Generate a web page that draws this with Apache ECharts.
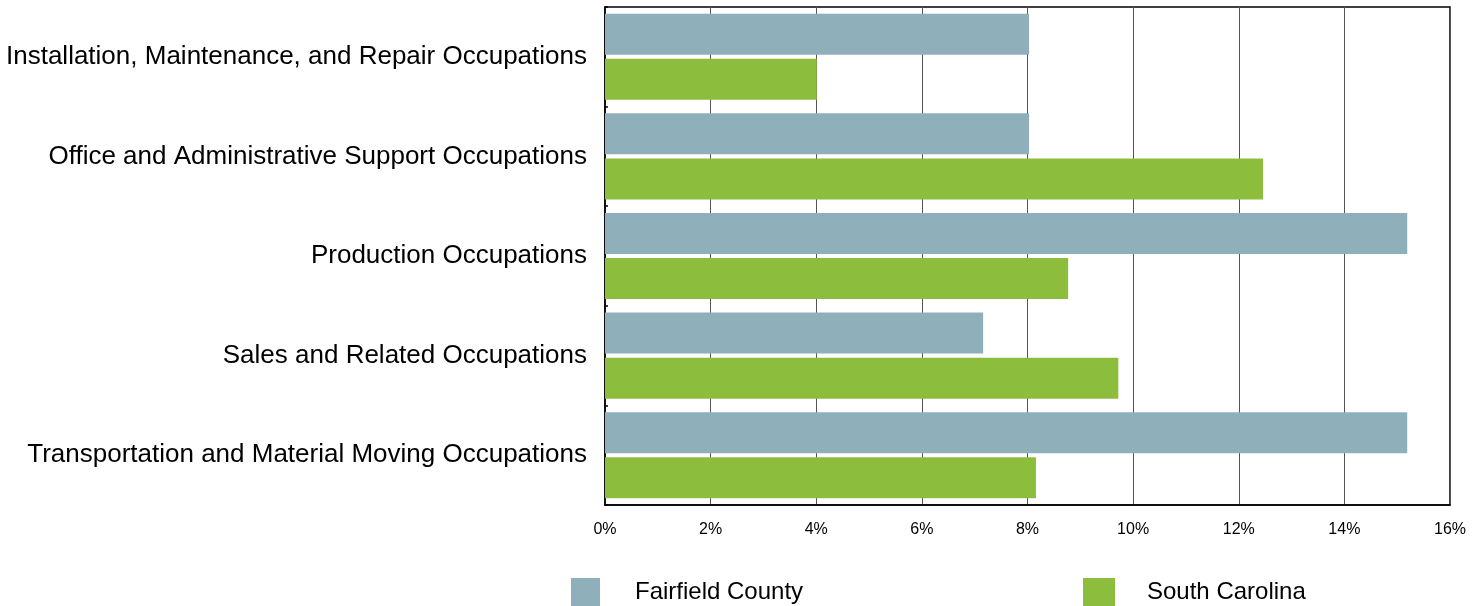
<!DOCTYPE html>
<html>
<head>
<meta charset="utf-8">
<script src="https://cdn.jsdelivr.net/npm/echarts@6/dist/echarts.min.js"></script>
<style>
  html, body { margin: 0; padding: 0; background: #fff; }
  #chart { width: 1484px; height: 606px; }
</style>
</head>
<body>
<div id="chart"></div>
<script>
const categories = [
  'Installation, Maintenance, and Repair Occupations',
  'Office and Administrative Support Occupations',
  'Production Occupations',
  'Sales and Related Occupations',
  'Transportation and Material Moving Occupations'
]
const fairfield = [8.03, 8.03, 15.19, 7.16, 15.19]
const southCarolina = [4.01, 12.46, 8.77, 9.72, 8.16]
const seriesNames = ['Fairfield County', 'South Carolina']
const colors = ['#8FAFBA', '#8DBD3C']

const chart = echarts.init(document.getElementById('chart'))

const legendText = (padLeft) => ({
  fontFamily: 'Liberation Sans, Arial, sans-serif', fontSize: 24, color: '#000',
  lineHeight: 24, padding: [6, 0, 0, padLeft]
})

chart.setOption({
  animation: false,
  textStyle: { fontFamily: 'Liberation Sans, Arial, sans-serif' },
  legend: [
    {
      data: [seriesNames[0]],
      left: 571, top: 577, padding: 0,
      itemWidth: 29, itemHeight: 28,
      icon: 'rect',
      textStyle: legendText(30)
    },
    {
      data: [seriesNames[1]],
      left: 1083, top: 577, padding: 0,
      itemWidth: 32, itemHeight: 28,
      icon: 'rect',
      textStyle: legendText(27)
    }
  ],
  grid: { left: 605, right: 34, top: 7, bottom: 101, containLabel: false, show: true, borderColor: '#000', borderWidth: 1.5 },
  xAxis: {
    type: 'value',
    min: 0, max: 16, interval: 2,
    axisLine: { show: true, lineStyle: { color: '#000', width: 1.5 } },
    axisTick: { show: false },
    axisLabel: { formatter: '{value}%', color: '#000', fontSize: 16, margin: 17 },
    splitLine: { show: true, lineStyle: { color: '#555', width: 1 } }
  },
  yAxis: {
    type: 'category',
    data: categories,
    inverse: true,
    axisLine: { show: true, lineStyle: { color: '#000', width: 1.5 } },
    axisTick: { show: true, length: -3, lineStyle: { color: '#000', width: 1.5 } },
    axisLabel: { color: '#000', fontSize: 26, margin: 18, padding: [4, 0, 0, 0] }
  },
  series: [
    {
      name: seriesNames[0], type: 'bar', data: fairfield,
      itemStyle: { color: colors[0] },
      barCategoryGap: '13.6%', barGap: '10%'
    },
    {
      name: seriesNames[1], type: 'bar', data: southCarolina,
      itemStyle: { color: colors[1] },
      barCategoryGap: '13.6%', barGap: '10%'
    }
  ]
})
</script>
</body>
</html>
